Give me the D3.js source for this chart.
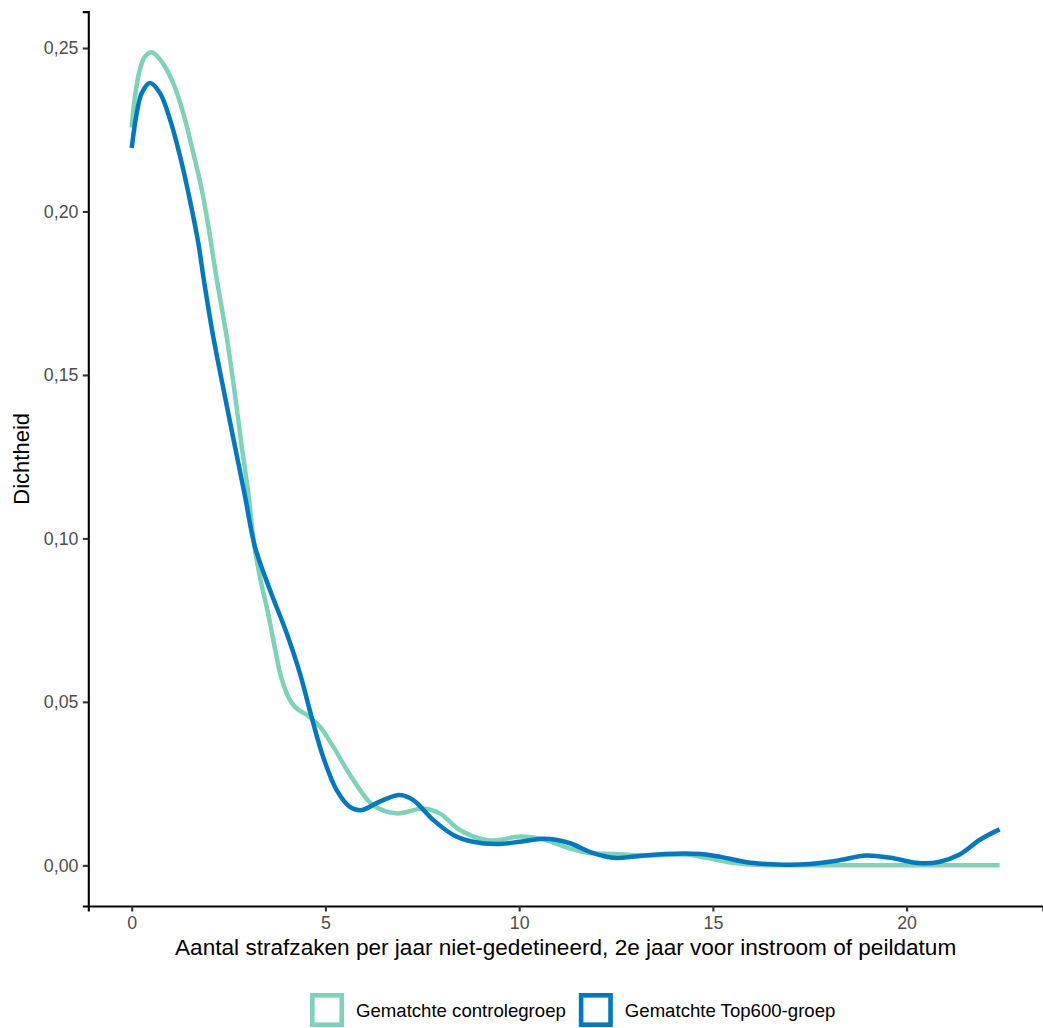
<!DOCTYPE html>
<html>
<head>
<meta charset="utf-8">
<script src="https://cdn.jsdelivr.net/npm/d3@7/dist/d3.min.js"></script>
<style>
  html, body { margin: 0; padding: 0; background: #fff; }
  svg { display: block; font-family: "Liberation Sans", Arial, Helvetica, sans-serif; }
</style>
</head>
<body>
<svg id="chart" width="1043" height="1028"></svg>
<script>
// ---- Data ----
const seriesNames = ["Gematchte controlegroep", "Gematchte Top600-groep"];
const seriesColors = ["#7DD3B8", "#0079C2"];

const controlX = [0, 0.085, 0.21, 0.35, 0.52, 0.8, 1.07, 1.33, 1.59, 1.81, 1.98, 2.19, 2.45, 2.66, 2.84, 3.01, 3.15, 3.33, 3.52, 3.7, 3.85, 4.0, 4.15, 4.3, 4.55, 4.86, 5.2, 5.72, 6.23, 6.84, 7.52, 7.95, 8.47, 9.16, 9.5, 10.02, 10.64, 11.27, 11.8, 12.43, 13.23, 14.3, 14.84, 15.56, 16.27, 17.5, 19, 20.5, 22.4];
const controlY = [0.2257, 0.2352, 0.2434, 0.2475, 0.2487, 0.2454, 0.2393, 0.2301, 0.2179, 0.2066, 0.1954, 0.1796, 0.1618, 0.1444, 0.1281, 0.1138, 0.0990, 0.0870, 0.0771, 0.0662, 0.0578, 0.0527, 0.0494, 0.0476, 0.0458, 0.0424, 0.0363, 0.0261, 0.0184, 0.0159, 0.0174, 0.0159, 0.0108, 0.0077, 0.0078, 0.0088, 0.0079, 0.0053, 0.0038, 0.0035, 0.0030, 0.0033, 0.0023, 0.0007, 0.0001, 0, 0, 0, 0];

const top600X = [0, 0.13, 0.26, 0.47, 0.73, 0.99, 1.25, 1.5, 1.72, 1.85, 2.1, 2.41, 2.66, 2.92, 3.18, 3.57, 4.0, 4.34, 4.64, 4.94, 5.29, 5.63, 5.93, 6.4, 6.92, 7.26, 7.78, 8.3, 8.81, 9.41, 10.02, 10.64, 11.27, 11.9, 12.43, 13.06, 13.77, 14.66, 15.2, 15.92, 16.8, 17.5, 18.24, 18.95, 19.58, 20.3, 20.83, 21.37, 21.9, 22.4];
const top600Y = [0.2194, 0.2301, 0.2362, 0.2393, 0.2362, 0.2281, 0.2168, 0.2036, 0.1903, 0.1800, 0.1620, 0.1432, 0.1284, 0.1132, 0.0975, 0.0842, 0.0710, 0.0588, 0.0455, 0.0332, 0.0230, 0.0179, 0.0169, 0.0195, 0.0215, 0.0200, 0.0139, 0.0093, 0.0072, 0.0065, 0.0072, 0.0081, 0.0069, 0.0038, 0.0023, 0.0028, 0.0035, 0.0035, 0.0026, 0.0009, 0.0002, 0.0004, 0.0015, 0.0030, 0.0023, 0.0007, 0.0010, 0.0033, 0.0079, 0.0110];

const xTicks = [0, 5, 10, 15, 20];
const yTicks = [0, 0.05, 0.10, 0.15, 0.20, 0.25];
const xTitle = "Aantal strafzaken per jaar niet-gedetineerd, 2e jaar voor instroom of peildatum";
const yTitle = "Dichtheid";

// ---- Layout ----
const svg = d3.select("#chart");
const panel = { left: 88.3, right: 1043, top: 11.6, bottom: 906 };

const series = [
  { name: seriesNames[0], color: seriesColors[0], pts: controlX.map((x, i) => [x, controlY[i]]) },
  { name: seriesNames[1], color: seriesColors[1], pts: top600X.map((x, i) => [x, top600Y[i]]) }
];

const allX = controlX.concat(top600X);
const allY = controlY.concat(top600Y);
const xMin = d3.min(allX), xMax = d3.max(allX);
const yMin = d3.min(allY), yMax = d3.max(allY);
const xPad = (xMax - xMin) * 0.05, yPad = (yMax - yMin) * 0.05;

const x = d3.scaleLinear().domain([xMin - xPad, xMax + xPad]).range([panel.left, panel.right]);
const y = d3.scaleLinear().domain([yMin - yPad, yMax + yPad]).range([panel.bottom, panel.top]);

const nl = d3.formatLocale({ decimal: ",", thousands: ".", grouping: [3], currency: ["€", ""] });
const yFmt = nl.format(".2f");

// Lines
const line = d3.line().x(d => x(d[0])).y(d => y(d[1])).curve(d3.curveCatmullRom.alpha(0.5));
svg.append("g").selectAll("path").data(series).join("path")
  .attr("d", d => line(d.pts))
  .attr("fill", "none")
  .attr("stroke", d => d.color)
  .attr("stroke-width", 4.5)
  .attr("stroke-linejoin", "round")
  .attr("stroke-linecap", "butt");

// Axes
const xAxis = svg.append("g")
  .attr("transform", `translate(0,${panel.bottom})`)
  .call(d3.axisBottom(x).tickValues(xTicks).tickFormat(d3.format("d")).tickSizeOuter(0).tickSize(5.5).tickPadding(4.4));
const yAxis = svg.append("g")
  .attr("transform", `translate(${panel.left},0)`)
  .call(d3.axisLeft(y).tickValues(yTicks).tickFormat(yFmt).tickSizeOuter(0).tickSize(5.5).tickPadding(4.4));

[xAxis, yAxis].forEach(g => {
  g.select(".domain").attr("stroke", "#000").attr("stroke-width", 2.1);
  g.selectAll(".tick line").attr("stroke", "#333").attr("stroke-width", 2.1);
  g.selectAll(".tick text").attr("fill", "#4D4D4D").style("font-size", "17.8px")
    .style("font-family", '"Liberation Sans", Arial, sans-serif');
});

// Axis titles
svg.append("text")
  .attr("x", (panel.left + panel.right) / 2)
  .attr("y", 955)
  .attr("text-anchor", "middle")
  .style("font-size", "22.6px")
  .attr("fill", "#000")
  .text(xTitle);

svg.append("text")
  .attr("transform", `translate(29,${(panel.top + panel.bottom) / 2}) rotate(-90)`)
  .attr("text-anchor", "middle")
  .style("font-size", "22px")
  .attr("fill", "#000")
  .text(yTitle);

// Legend
const legend = svg.append("g");
const keySize = 34, keyStroke = 4.6, textGap = 12, itemGap = 13;
let lx = 310;
const legendCenterY = 1010;
series.forEach(s => {
  legend.append("rect")
    .attr("x", lx + keyStroke / 2)
    .attr("y", legendCenterY - keySize / 2 + keyStroke / 2)
    .attr("width", keySize - keyStroke)
    .attr("height", keySize - keyStroke)
    .attr("fill", "#fff")
    .attr("stroke", s.color)
    .attr("stroke-width", keyStroke);
  const t = legend.append("text")
    .attr("x", lx + keySize + textGap)
    .attr("y", legendCenterY)
    .attr("dy", "0.35em")
    .style("font-size", "18.6px")
    .attr("fill", "#000")
    .text(s.name);
  lx += keySize + textGap + t.node().getComputedTextLength() + itemGap;
});
</script>
</body>
</html>
